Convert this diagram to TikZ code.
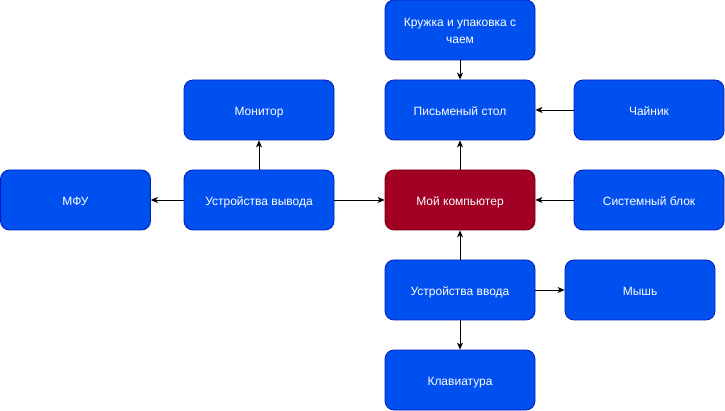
\documentclass[tikz,border=0pt]{standalone}
\usepackage{fontspec}
\setmainfont{Liberation Sans}
\usetikzlibrary{arrows.meta}
\definecolor{bfill}{HTML}{0050EF}
\definecolor{bdraw}{HTML}{001DBC}
\definecolor{rfill}{HTML}{A20025}
\definecolor{rdraw}{HTML}{6F0000}
\newcommand\lbl[1]{\raisebox{-9.5pt}{\smash{\begin{tabular}{@{}c@{}}#1\end{tabular}}}}
\begin{document}
\begin{tikzpicture}[x=1pt,y=-1pt,
  box/.style={draw=bdraw,fill=bfill,rounded corners=9pt,minimum width=150pt,minimum height=60pt,
    text=white,font=\fontsize{12}{17}\selectfont,line width=0.8pt,inner sep=0pt},
  redbox/.style={box,draw=rdraw,fill=rfill},
  conn/.style={-{Stealth[length=7pt,width=6pt,inset=2pt]},line width=0.8pt,black}]
\useasboundingbox (0,0) rectangle (725,411);
\node[box] (mug) at (460,30) {\lbl{Кружка и упаковка с\\чаем}};
\node[box] (mon) at (259,110) {\lbl{Монитор}};
\node[box] (desk) at (460,110) {\lbl{Письменый стол}};
\node[box] (kettle) at (649,110) {\lbl{Чайник}};
\node[box] (mfu) at (75.5,200) {\lbl{МФУ}};
\node[box] (out) at (259,200) {\lbl{Устройства вывода}};
\node[redbox] (pc) at (460,200) {\lbl{Мой компьютер}};
\node[box] (sys) at (649,200) {\lbl{Системный блок}};
\node[box] (in) at (460,290) {\lbl{Устройства ввода}};
\node[box] (mouse) at (640,290) {\lbl{Мышь}};
\node[box] (kbd) at (460,380) {\lbl{Клавиатура}};
\draw[conn] (mug) -- (desk);
\draw[conn] (kettle) -- (desk);
\draw[conn] (pc) -- (desk);
\draw[conn] (sys) -- (pc);
\draw[conn] (out) -- (pc);
\draw[conn] (out) -- (mfu);
\draw[conn] (out) -- (mon);
\draw[conn] (in) -- (pc);
\draw[conn] (in) -- (mouse);
\draw[conn] (in) -- (kbd);
\end{tikzpicture}
\end{document}
